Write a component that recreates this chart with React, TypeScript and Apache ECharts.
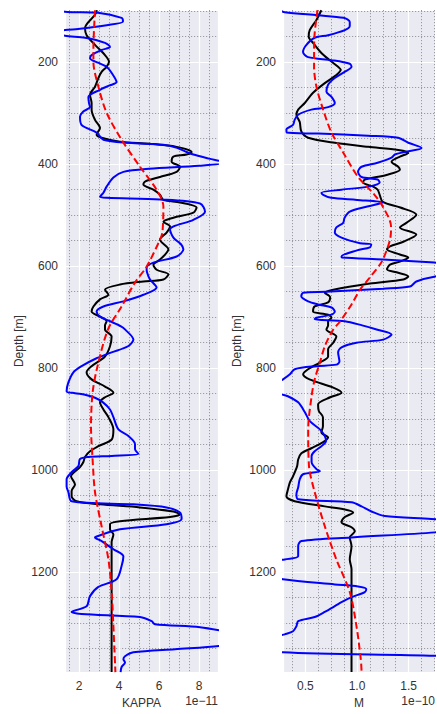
import React, { useEffect, useRef } from "react";
import * as echarts from "echarts";

// Well log: depth [m] against KAPPA (x 1e-11) and M (x 1e-10).
// Each profile is a list of [depth, value] samples.

const depthMin = 97.6;
const depthMax = 1396;

const kappaMin = 1.3;
const kappaMax = 8.95;
const kappaExponent = "1e\u221211";

const mMin = 0.283;
const mMax = 1.756;
const mExponent = "1e\u221210";

const kappaMeasured: [number, number][] = [
  [94, 1.0], [101, 1.3], [103, 2.95], [113, 4.13], [120, 4.2], [128, 3.3], [135, 1.95], [137, 1.3],
  [143, 0.9], [148, 1.3], [152, 2.3], [162, 3.3], [170, 3.55], [176, 3.13], [186, 2.63], [192, 2.55],
  [201, 2.95], [209, 3.38], [225, 3.7], [239, 3.88], [246, 3.5], [254, 3.05], [268, 2.47], [280, 2.5],
  [288, 2.55], [297, 2.2], [307, 2.05], [323, 2.13], [338, 2.88], [352, 3.22], [358, 4.5], [362, 6.22],
  [368, 6.9], [376, 7.38], [381, 7.72], [389, 8.5], [397, 9.3], [403, 8.0], [409, 5.5], [415, 4.22],
  [426, 3.72], [444, 3.38], [456, 3.22], [464, 3.05], [466, 3.4], [469, 6.05], [477, 8.05], [493, 8.3],
  [509, 7.72], [528, 6.55], [544, 6.72], [557, 7.1], [567, 7.22], [581, 6.88], [593, 5.72], [603, 5.38],
  [612, 5.4], [626, 5.55], [642, 5.88], [656, 5.22], [669, 4.22], [679, 3.22], [689, 2.88], [699, 3.05],
  [708, 3.55], [718, 4.1], [724, 4.3], [744, 4.72], [757, 4.45], [769, 3.63], [782, 2.8], [796, 2.13],
  [808, 1.72], [828, 1.47], [845, 1.38], [849, 1.8], [852, 2.3], [858, 2.8], [867, 3.2], [881, 3.55],
  [896, 3.72], [920, 3.97], [933, 4.47], [949, 4.8], [959, 4.8], [968, 4.97], [972, 3.63], [974, 2.47],
  [978, 2.05], [992, 1.97], [1004, 1.63], [1018, 1.38], [1032, 1.38], [1043, 1.47], [1061, 1.63],
  [1067, 4.72], [1073, 6.38], [1083, 7.05], [1096, 7.13], [1106, 6.38], [1116, 4.05], [1130, 2.88],
  [1132, 2.8], [1139, 3.13], [1155, 3.72], [1169, 4.22], [1188, 4.13], [1214, 3.88], [1229, 2.97],
  [1247, 2.55], [1267, 2.38], [1278, 1.63], [1282, 2.13], [1288, 5.05], [1296, 5.63], [1302, 5.8],
  [1308, 8.05], [1318, 9.5], [1331, 11.0], [1345, 9.0], [1351, 6.8], [1357, 4.72], [1365, 4.3],
  [1371, 4.22], [1377, 4.3], [1386, 4.13], [1396, 4.08],
];

const kappaSmooth: [number, number][] = [
  [98, 2.9], [107, 2.8], [133, 2.3], [147, 2.38], [166, 2.8], [186, 3.3], [199, 3.5], [209, 3.38],
  [219, 3.13], [231, 2.97], [248, 2.8], [264, 2.55], [280, 2.63], [293, 2.63], [313, 2.8], [329, 3.05],
  [342, 2.88], [348, 3.13], [356, 4.05], [360, 5.55], [366, 6.88], [376, 7.63], [381, 7.38], [385, 6.72],
  [395, 6.63], [405, 7.05], [415, 6.88], [425, 6.05], [434, 5.3], [440, 5.22], [450, 5.72], [460, 6.05],
  [470, 6.22], [475, 7.05], [485, 7.88], [495, 7.72], [505, 6.72], [513, 6.22], [522, 6.55], [534, 6.38],
  [548, 6.05], [567, 6.47], [587, 6.05], [597, 5.72], [607, 5.88], [616, 6.47], [626, 6.22], [630, 5.22],
  [636, 4.05], [646, 3.3], [656, 3.47], [665, 3.05], [679, 2.72], [689, 2.63], [699, 3.05], [708, 3.38],
  [716, 3.3], [724, 3.3], [738, 3.63], [757, 3.55], [777, 3.3], [796, 2.63], [808, 2.38], [822, 2.63],
  [836, 3.3], [848, 3.72], [857, 3.3], [867, 3.05], [881, 3.22], [896, 3.47], [920, 3.72], [939, 3.65],
  [953, 2.97], [963, 2.55], [974, 2.3], [984, 2.22], [994, 2.05], [1012, 1.6], [1028, 1.8], [1041, 1.63],
  [1051, 1.63], [1061, 1.88], [1067, 3.05], [1073, 5.05], [1081, 6.72], [1087, 7.05], [1092, 6.55],
  [1100, 4.05], [1106, 3.55], [1116, 3.55], [1126, 3.72], [1141, 3.63], [1200, 3.63], [1300, 3.63],
  [1396, 3.63],
];

const kappaTrend: [number, number][] = [
  [98, 2.8], [176, 2.72], [199, 2.72], [248, 2.97], [299, 3.38], [352, 4.13], [405, 5.05], [450, 5.88],
  [483, 6.22], [534, 6.17], [548, 6.05], [601, 5.38], [632, 4.8], [679, 4.13], [724, 3.45], [797, 2.92],
  [848, 2.68], [914, 2.6], [979, 2.68], [1043, 2.8], [1110, 3.13], [1175, 3.47], [1239, 3.63],
  [1306, 3.72], [1396, 3.82],
];

const mMeasured: [number, number][] = [
  [98, 0.25], [102, 0.3], [108, 0.62], [113, 0.87], [121, 0.93], [129, 0.93], [137, 0.882], [147, 0.72],
  [152, 0.59], [166, 0.51], [180, 0.477], [190, 0.526], [196, 0.753], [203, 0.93], [209, 0.947],
  [219, 0.88], [231, 0.785], [244, 0.72], [258, 0.704], [268, 0.753], [280, 0.785], [288, 0.72],
  [293, 0.558], [303, 0.43], [313, 0.396], [323, 0.38], [332, 0.316], [338, 0.32], [340, 0.623],
  [344, 1.108], [348, 1.4], [358, 1.497], [368, 1.626], [376, 1.464], [381, 1.367], [387, 1.335],
  [397, 1.2], [405, 1.044], [415, 1.01], [425, 1.044], [430, 1.2], [436, 1.22], [444, 1.108], [450, 0.85],
  [456, 0.655], [460, 0.672], [466, 0.75], [470, 1.0], [475, 1.25], [483, 1.1], [493, 0.93], [505, 0.88],
  [515, 0.866], [524, 0.8], [534, 0.785], [544, 0.85], [555, 1.03], [557, 1.138], [563, 1.125],
  [569, 1.0], [581, 0.85], [583, 0.855], [587, 1.254], [593, 1.75], [597, 2.0], [616, 2.0], [620, 1.76],
  [630, 1.575], [640, 1.513], [644, 1.254], [650, 0.7], [652, 0.478], [659, 0.46], [669, 0.527],
  [675, 0.623], [681, 0.753], [689, 0.785], [695, 0.753], [701, 0.607], [704, 0.59], [708, 0.882],
  [716, 1.05], [724, 1.19], [734, 1.335], [744, 1.254], [750, 0.995], [759, 0.85], [769, 0.817],
  [787, 0.83], [793, 0.8], [796, 0.607], [802, 0.397], [812, 0.35], [822, 0.283], [833, 0.2], [845, 0.2],
  [855, 0.33], [867, 0.43], [886, 0.494], [904, 0.543], [920, 0.64], [933, 0.688], [943, 0.7], [953, 0.655],
  [963, 0.59], [972, 0.56], [984, 0.56], [998, 0.607], [1002, 0.64], [1008, 0.477], [1018, 0.445],
  [1034, 0.43], [1047, 0.413], [1057, 0.43], [1063, 0.947], [1071, 1.044], [1081, 1.14], [1090, 1.27],
  [1096, 1.72], [1100, 1.9], [1116, 1.95], [1122, 1.756], [1132, 0.947], [1139, 0.461], [1149, 0.43],
  [1169, 0.43], [1175, 0.3], [1180, 0.2], [1204, 0.15], [1214, 0.283], [1224, 0.785], [1228, 1.01],
  [1233, 1.09], [1239, 1.076], [1249, 0.947], [1259, 0.85], [1278, 0.688], [1288, 0.59], [1296, 0.43],
  [1306, 0.413], [1316, 0.38], [1322, 0.3], [1331, 0.15], [1347, 0.15], [1357, 0.283], [1364, 1.756],
  [1371, 2.2],
];

const mSmooth: [number, number][] = [
  [98, 0.655], [117, 0.607], [137, 0.542], [150, 0.532], [162, 0.574], [182, 0.655], [196, 0.736],
  [209, 0.817], [215, 0.843], [225, 0.8], [241, 0.688], [260, 0.574], [280, 0.494], [293, 0.43],
  [303, 0.413], [317, 0.445], [336, 0.461], [348, 0.526], [358, 0.785], [366, 1.108], [372, 1.4],
  [378, 1.497], [385, 1.416], [395, 1.335], [405, 1.4], [411, 1.416], [421, 1.286], [430, 1.076],
  [436, 1.06], [444, 1.157], [450, 1.2], [460, 1.22], [474, 1.25], [485, 1.42], [499, 1.575],
  [515, 1.478], [524, 1.416], [538, 1.575], [552, 1.449], [561, 1.32], [567, 1.29], [577, 1.416],
  [583, 1.497], [591, 1.416], [597, 1.32], [606, 1.29], [612, 1.384], [620, 1.497], [626, 1.449],
  [634, 1.125], [646, 0.77], [652, 0.688], [661, 0.74], [671, 0.72], [679, 0.59], [689, 0.574],
  [695, 0.72], [701, 0.753], [708, 0.72], [716, 0.72], [724, 0.704], [738, 0.8], [750, 0.77],
  [763, 0.72], [777, 0.72], [789, 0.64], [802, 0.526], [812, 0.478], [822, 0.54], [838, 0.77],
  [848, 0.85], [857, 0.74], [871, 0.623], [884, 0.63], [896, 0.67], [914, 0.67], [926, 0.655],
  [936, 0.72], [947, 0.655], [957, 0.558], [967, 0.461], [979, 0.43], [992, 0.42], [1012, 0.38],
  [1024, 0.35], [1037, 0.332], [1051, 0.316], [1061, 0.396], [1071, 0.688], [1077, 0.882], [1083, 0.963],
  [1092, 0.882], [1102, 0.85], [1112, 0.947], [1120, 0.979], [1132, 0.93], [1149, 0.947], [1175, 0.93],
  [1194, 0.947], [1396, 0.947],
];

const mTrend: [number, number][] = [
  [98, 0.617], [143, 0.59], [176, 0.584], [209, 0.584], [248, 0.607], [293, 0.672], [338, 0.753],
  [377, 0.866], [425, 1.01], [460, 1.17], [483, 1.25], [522, 1.33], [548, 1.32], [591, 1.24],
  [622, 1.125], [646, 1.03], [675, 0.947], [710, 0.83], [724, 0.77], [756, 0.69], [789, 0.64],
  [822, 0.59], [855, 0.56], [920, 0.527], [992, 0.535], [1043, 0.59], [1110, 0.688], [1175, 0.8],
  [1239, 0.93], [1306, 0.995], [1371, 1.037], [1396, 1.045],
];

const FONT = "'Liberation Sans', Arial, sans-serif";
const TEXT = "#333333";

const toXY = (rows: [number, number][]) => rows.map(([d, v]) => [v, d]);

function xAxisFor(gridIndex: number, min: number, max: number, step: number, name: string, digits: number) {
  return {
    gridIndex,
    type: "value",
    min,
    max,
    minInterval: step,
    maxInterval: step,
    name,
    nameLocation: "middle",
    nameGap: 22,
    nameTextStyle: { color: TEXT, fontSize: 12, fontFamily: FONT },
    axisLine: { show: false },
    axisTick: { show: false },
    axisLabel: {
      color: TEXT,
      fontSize: 12,
      fontFamily: FONT,
      margin: 8,
      showMinLabel: false,
      showMaxLabel: false,
      formatter: (v: number) => v.toFixed(digits),
    },
    splitLine: { show: true, lineStyle: { color: "#ffffff", width: 1.2 } },
    minorTick: { show: false, splitNumber: 4 },
    minorSplitLine: { show: true, lineStyle: { color: "#9a9aa0", width: 1, type: [1.2, 1.8] } },
  };
}

function yAxisFor(gridIndex: number) {
  return {
    gridIndex,
    type: "value",
    inverse: true,
    min: depthMin,
    max: depthMax,
    minInterval: 200,
    maxInterval: 200,
    name: "Depth [m]",
    nameLocation: "middle",
    nameRotate: 90,
    nameGap: 40,
    nameTextStyle: { color: TEXT, fontSize: 12, fontFamily: FONT },
    axisLine: { show: false },
    axisTick: { show: false },
    axisLabel: {
      color: TEXT,
      fontSize: 12,
      fontFamily: FONT,
      margin: 7,
      showMinLabel: false,
      showMaxLabel: false,
      formatter: (v: number) => String(Math.round(v)),
    },
    splitLine: { show: true, lineStyle: { color: "#ffffff", width: 1.2 } },
    minorTick: { show: false, splitNumber: 4 },
    minorSplitLine: { show: true, lineStyle: { color: "#9a9aa0", width: 1, type: [1.2, 1.8] } },
  };
}

function lineSeries(idx: number, rows: [number, number][], color: string, dashed = false) {
  return {
    type: "line",
    xAxisIndex: idx,
    yAxisIndex: idx,
    data: toXY(rows),
    symbol: "none",
    showSymbol: false,
    smooth: 0.3,
    clip: true,
    lineStyle: { color, width: 2, type: dashed ? [7, 3.5] : "solid" },
  };
}

export default function App() {
  const ref = useRef<HTMLDivElement>(null);

  useEffect(() => {
    document.body.style.margin = "0";
    if (!ref.current) return;
    const chart = echarts.init(ref.current, undefined, { renderer: "svg" });
    chart.setOption({
      animation: false,
      backgroundColor: "#ffffff",
      grid: [
        { left: 65, top: 10, width: 153, height: 663, show: true, backgroundColor: "#EAEAF2", borderWidth: 0 },
        { left: 283, top: 10, width: 152, height: 663, show: true, backgroundColor: "#EAEAF2", borderWidth: 0 },
      ],
      xAxis: [
        xAxisFor(0, kappaMin, kappaMax, 2, "KAPPA", 0),
        xAxisFor(1, mMin, mMax, 0.5, "M", 1),
      ],
      yAxis: [yAxisFor(0), yAxisFor(1)],
      graphic: [
        {
          type: "text",
          right: 437 - 218,
          top: 695,
          style: { text: kappaExponent, fill: TEXT, font: `12px ${FONT}` },
        },
        {
          type: "text",
          right: 2,
          top: 695,
          style: { text: mExponent, fill: TEXT, font: `12px ${FONT}` },
        },
      ],
      series: [
        lineSeries(0, kappaSmooth, "#000000"),
        lineSeries(0, kappaMeasured, "#0000ff"),
        lineSeries(0, kappaTrend, "#ff0000", true),
        lineSeries(1, mSmooth, "#000000"),
        lineSeries(1, mMeasured, "#0000ff"),
        lineSeries(1, mTrend, "#ff0000", true),
      ],
    });
    return () => chart.dispose();
  }, []);

  return <div ref={ref} style={{ width: 437, height: 714 }} />;
}
